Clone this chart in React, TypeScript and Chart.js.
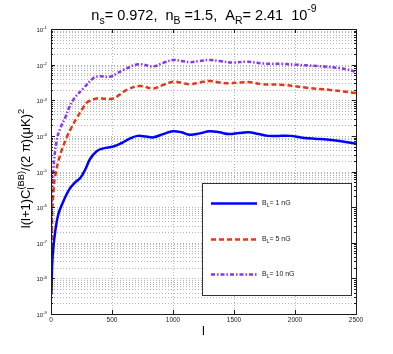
import React, { useEffect, useRef } from "react";
import { Chart, registerables } from "chart.js";

Chart.register(...registerables);

// multipole l sample positions and log10 of l(l+1)C_l/(2pi) [muK^2]
const L_1NG = [3, 8, 14, 33, 60, 100, 150, 200, 240, 280, 320, 374, 430, 510, 580, 650, 710, 780, 840, 920, 1000, 1070, 1140, 1220, 1300, 1380, 1460, 1540, 1620, 1700, 1780, 1860, 1960, 2060, 2160, 2260, 2380, 2500];
const LOG_1NG = [-8.45, -7.8, -7.35, -6.72, -6.2, -5.85, -5.5, -5.3, -5.18, -4.95, -4.65, -4.43, -4.35, -4.3, -4.2, -4.07, -4.0, -4.02, -4.04, -3.95, -3.87, -3.9, -3.97, -3.93, -3.87, -3.9, -3.95, -3.92, -3.9, -3.95, -4.0, -4.0, -4.0, -4.05, -4.08, -4.1, -4.15, -4.22];

const L_5NG = [3, 6, 11, 20, 33, 74, 128, 170, 211, 265, 300, 374, 450, 511, 560, 620, 730, 839, 920, 1002, 1070, 1139, 1220, 1303, 1380, 1460, 1550, 1620, 1741, 1905, 2096, 2287, 2500];
const LOG_5NG = [-7.6, -7.0, -6.1, -5.6, -5.15, -4.55, -4.05, -3.75, -3.5, -3.2, -3.05, -2.95, -2.96, -2.95, -2.85, -2.71, -2.6, -2.67, -2.57, -2.48, -2.51, -2.55, -2.5, -2.46, -2.5, -2.52, -2.5, -2.49, -2.55, -2.57, -2.65, -2.71, -2.8];

const L_10NG = [3, 6, 19, 47, 80, 115, 150, 190, 265, 347, 400, 484, 540, 593, 716, 839, 920, 1002, 1070, 1139, 1220, 1303, 1380, 1495, 1604, 1741, 1905, 2000, 2178, 2369, 2500];
const LOG_10NG = [-6.4, -5.9, -4.96, -4.12, -3.75, -3.5, -3.2, -2.95, -2.67, -2.38, -2.33, -2.34, -2.25, -2.15, -1.99, -2.05, -1.95, -1.87, -1.9, -1.93, -1.9, -1.87, -1.9, -1.94, -1.92, -1.97, -1.98, -2.0, -2.04, -2.1, -2.2];

const SERIES_LABELS = ["1 nG", "5 nG", "10 nG"];
const X_TICKS = [0, 500, 1000, 1500, 2000, 2500];
const Y_EXPONENTS = [-9, -8, -7, -6, -5, -4, -3, -2, -1];

const COLORS = ["#0000ff", "#e3391b", "#8a35ee"];
const DASHES: number[][] = [[], [5, 3], [4, 2, 1.5, 2]];

type Seg = { t: string; m?: "sub" | "sup" | "subsup"; t2?: string };

const FONT = "'Liberation Sans', Arial, sans-serif";

function segWidth(ctx: CanvasRenderingContext2D, segs: Seg[], size: number) {
  let w = 0;
  for (const s of segs) {
    if (!s.m) {
      ctx.font = `${size}px ${FONT}`;
      w += ctx.measureText(s.t).width;
    } else {
      ctx.font = `${size * 0.72}px ${FONT}`;
      const a = ctx.measureText(s.t).width;
      const b = s.t2 ? ctx.measureText(s.t2).width : 0;
      w += Math.max(a, b);
    }
  }
  return w;
}

function drawSegs(ctx: CanvasRenderingContext2D, segs: Seg[], size: number, x: number, y: number, supOff = 0.45) {
  ctx.textBaseline = "alphabetic";
  ctx.textAlign = "left";
  let cx = x;
  for (const s of segs) {
    if (!s.m) {
      ctx.font = `${size}px ${FONT}`;
      ctx.fillText(s.t, cx, y);
      cx += ctx.measureText(s.t).width;
    } else {
      ctx.font = `${size * 0.72}px ${FONT}`;
      if (s.m === "sub") {
        ctx.fillText(s.t, cx, y + size * 0.3);
        cx += ctx.measureText(s.t).width;
      } else if (s.m === "sup") {
        ctx.fillText(s.t, cx, y - size * supOff);
        cx += ctx.measureText(s.t).width;
      } else {
        ctx.fillText(s.t, cx, y + size * 0.3);
        ctx.fillText(s.t2 || "", cx, y - size * 0.5);
        cx += Math.max(ctx.measureText(s.t).width, ctx.measureText(s.t2 || "").width);
      }
    }
  }
}

const decorPlugin = {
  id: "decor",
  beforeDatasetsDraw(chart: any) {
    const ctx: CanvasRenderingContext2D = chart.ctx;
    const { left, right, top, bottom } = chart.chartArea;
    const xs = chart.scales.x;
    const ys = chart.scales.y;
    ctx.save();
    ctx.strokeStyle = "#b4b4b4";
    ctx.lineWidth = 1;
    ctx.setLineDash([1, 2]);
    for (let e = -9; e <= -1; e++) {
      for (let k = 1; k <= 9; k++) {
        const v = k * Math.pow(10, e);
        if (v > 0.1 + 1e-12) continue;
        const py = Math.round(ys.getPixelForValue(v)) + 0.5;
        if (py <= top + 1 || py >= bottom - 1) continue;
        ctx.beginPath();
        ctx.moveTo(left, py);
        ctx.lineTo(right, py);
        ctx.stroke();
      }
    }
    for (const t of X_TICKS) {
      const px = Math.round(xs.getPixelForValue(t)) + 0.5;
      if (px <= left + 1 || px >= right - 1) continue;
      ctx.beginPath();
      ctx.moveTo(px, top);
      ctx.lineTo(px, bottom);
      ctx.stroke();
    }
    ctx.restore();
  },
  afterDraw(chart: any) {
    const ctx: CanvasRenderingContext2D = chart.ctx;
    const { left, right, top, bottom } = chart.chartArea;
    const xs = chart.scales.x;
    const ys = chart.scales.y;
    ctx.save();
    ctx.setLineDash([]);
    ctx.fillStyle = "#000";
    ctx.strokeStyle = "#1a1a1a";
    ctx.lineWidth = 1;
    // ticks
    for (let e = -9; e <= -1; e++) {
      for (let k = 1; k <= 9; k++) {
        const v = k * Math.pow(10, e);
        if (v > 0.1 + 1e-12) continue;
        const py = Math.round(ys.getPixelForValue(v)) + 0.5;
        const len = k === 1 ? 4 : 2;
        ctx.beginPath();
        ctx.moveTo(left, py);
        ctx.lineTo(left + len, py);
        ctx.moveTo(right, py);
        ctx.lineTo(right - len, py);
        ctx.stroke();
      }
    }
    for (const t of X_TICKS) {
      const px = Math.round(xs.getPixelForValue(t)) + 0.5;
      ctx.beginPath();
      ctx.moveTo(px, bottom);
      ctx.lineTo(px, bottom - 4);
      ctx.moveTo(px, top);
      ctx.lineTo(px, top + 4);
      ctx.stroke();
    }
    // frame
    ctx.strokeRect(Math.round(left) + 0.5, Math.round(top) + 0.5, Math.round(right - left), Math.round(bottom - top));

    // y tick labels
    ctx.fillStyle = "#222";
    for (const e of Y_EXPONENTS) {
      const py = ys.getPixelForValue(Math.pow(10, e));
      const segs: Seg[] = [{ t: "10" }, { t: String(e), m: "sup" }];
      const w = segWidth(ctx, segs, 6);
      drawSegs(ctx, segs, 6, left - 4 - w, py + 3);
    }
    // x tick labels
    ctx.font = `6.5px ${FONT}`;
    ctx.textAlign = "center";
    ctx.textBaseline = "top";
    for (const t of X_TICKS) {
      ctx.fillText(String(t), xs.getPixelForValue(t), bottom + 3);
    }

    // title
    ctx.fillStyle = "#000";
    const title: Seg[] = [
      { t: "n" }, { t: "s", m: "sub" }, { t: "= 0.972,  n" }, { t: "B", m: "sub" },
      { t: " =1.5,  A" }, { t: "R", m: "sub" }, { t: "= 2.41  10" }, { t: "-9", m: "sup" },
    ];
    const tw = segWidth(ctx, title, 14.5);
    drawSegs(ctx, title, 14.5, 204 - tw / 2, 20, 0.55);

    // x label
    ctx.font = `13px ${FONT}`;
    ctx.textAlign = "center";
    ctx.textBaseline = "alphabetic";
    ctx.fillText("l", (left + right) / 2, bottom + 21);

    // y label
    const ylab: Seg[] = [
      { t: "l(l+1)C" }, { t: "l", m: "subsup", t2: "(BB)" }, { t: "/(2 \u03c0)(\u03bcK)" }, { t: "2", m: "sup" },
    ];
    const yw = segWidth(ctx, ylab, 13);
    ctx.save();
    ctx.translate(30, (top + bottom) / 2 - 3);
    ctx.rotate(-Math.PI / 2);
    drawSegs(ctx, ylab, 13, -yw / 2, 0);
    ctx.restore();

    // legend
    const bx = 202, by = 183, bw = 149, bh = 112;
    ctx.fillStyle = "#fff";
    ctx.fillRect(bx, by, bw, bh);
    ctx.strokeStyle = "#333";
    ctx.lineWidth = 1;
    ctx.strokeRect(bx + 0.5, by + 0.5, bw, bh);
    const rows = [203.5, 239.5, 274.5];
    SERIES_LABELS.forEach((lab, i) => {
      ctx.strokeStyle = COLORS[i];
      ctx.lineWidth = 2.5;
      ctx.setLineDash(DASHES[i]);
      ctx.beginPath();
      ctx.moveTo(211, rows[i]);
      ctx.lineTo(257, rows[i]);
      ctx.stroke();
      ctx.setLineDash([]);
      ctx.fillStyle = "#222";
      drawSegs(ctx, [{ t: "B" }, { t: "L", m: "sub" }, { t: "= " + lab }], 7, 262, rows[i] + 1);
    });
    ctx.restore();
  },
};

export default function App() {
  const ref = useRef<HTMLCanvasElement>(null);
  useEffect(() => {
    if (!ref.current) return;
    const mk = (ls: number[], lg: number[]) => ls.map((x, i) => ({ x, y: Math.pow(10, lg[i]) }));
    const datas = [mk(L_1NG, LOG_1NG), mk(L_5NG, LOG_5NG), mk(L_10NG, LOG_10NG)];
    const chart = new Chart(ref.current, {
      type: "line",
      data: {
        datasets: datas.map((d, i) => ({
          label: "B_L= " + SERIES_LABELS[i],
          data: d,
          borderColor: COLORS[i],
          backgroundColor: COLORS[i],
          borderWidth: 2.5,
          borderDash: DASHES[i],
          pointRadius: 0,
          tension: 0.4,
          fill: false,
        })),
      },
      options: {
        responsive: false,
        animation: false,
        layout: { padding: { left: 51, right: 37, top: 29, bottom: 40 } },
        plugins: { legend: { display: false }, title: { display: false }, tooltip: { enabled: false } },
        scales: {
          x: { type: "linear", min: 0, max: 2500, display: false },
          y: { type: "logarithmic", min: 1e-9, max: 1e-1, display: false },
        },
      },
      plugins: [decorPlugin],
    });
    return () => chart.destroy();
  }, []);
  return (
    <div style={{ position: "absolute", left: 0, top: 0, width: 393, height: 354, background: "#fff" }}>
      <canvas ref={ref} width={393} height={354} />
    </div>
  );
}
